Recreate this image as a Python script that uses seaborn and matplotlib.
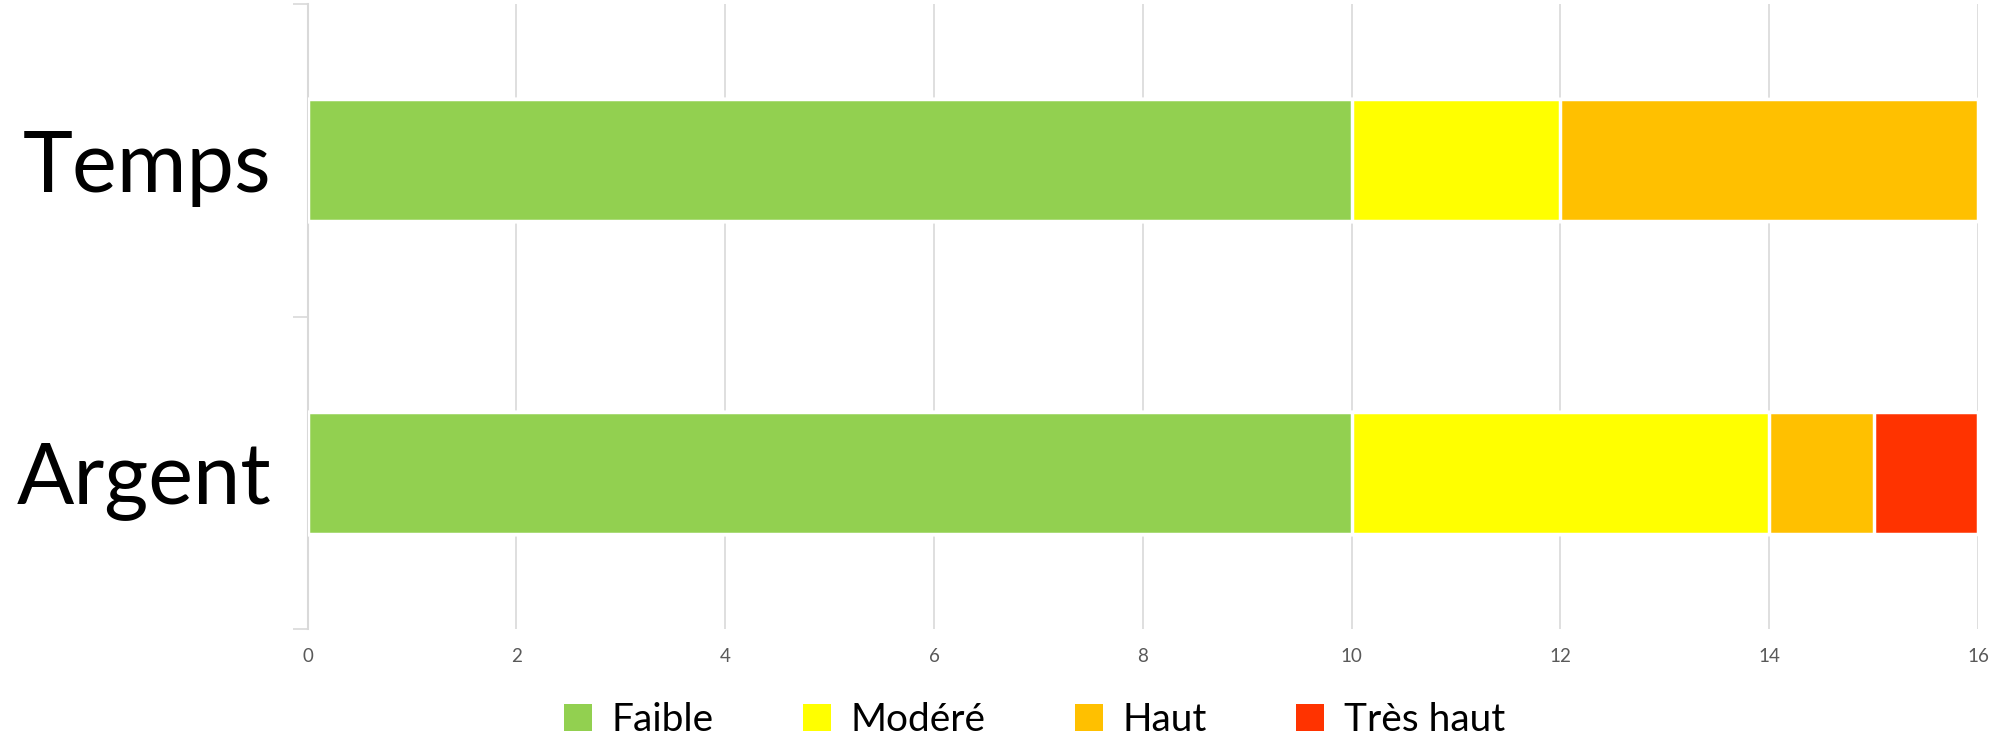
import numpy as np
import pandas as pd
import matplotlib
matplotlib.use("Agg")
import matplotlib.pyplot as plt
import seaborn as sns
from matplotlib.patches import Patch

# ==========================================
# DATA
# ==========================================
categories = ["Temps", "Argent"]
levels = ["Faible", "Modéré", "Haut", "Très haut"]
faible = [10, 10]
modere = [2, 4]
haut = [4, 1]
tres_haut = [0, 1]
colors = ["#92d050", "#ffff00", "#ffc000", "#ff3300"]
x_ticks = [0, 2, 4, 6, 8, 10, 12, 14, 16]

# ==========================================
# STYLE
# ==========================================
sns.set_style("white")
plt.rcParams["font.family"] = ["Lato", "DejaVu Sans"]

df = pd.DataFrame({"cat": categories, "Faible": faible, "Modéré": modere,
                   "Haut": haut, "Très haut": tres_haut})
cum = df[levels].cumsum(axis=1)

fig = plt.figure(figsize=(19.93, 7.47), dpi=100)
ax = fig.add_axes([0.1543, 0.158, 0.8382, 0.8366])

# stacked bars: draw cumulative totals from the back to the front
for lvl, col in reversed(list(zip(levels, colors))):
    sns.barplot(x=cum[lvl], y=df["cat"], orient="h", color=col, width=0.39,
                edgecolor="white", linewidth=2.5, saturation=1, ax=ax, zorder=3)

ax.set_xlim(0, 16)
ax.set_ylim(1.5, -0.5)
ax.set_xticks(x_ticks)
ax.set_xticklabels([str(t) for t in x_ticks], fontsize=13.5, color="#595959")
ax.set_xlabel("")
ax.set_ylabel("")
ax.tick_params(axis="x", length=0, pad=14)
ax.tick_params(axis="y", which="major", length=0, pad=26, labelsize=61,
               labelcolor="black")
ax.set_yticks([-0.5, 0.5, 1.5], minor=True)
ax.tick_params(axis="y", which="minor", left=True, length=11, width=1.2,
               color="#d9d9d9", direction="out")

ax.grid(axis="x", color="#d9d9d9", linewidth=1.2, zorder=0)
ax.set_axisbelow(True)
for side in ["top", "right", "bottom"]:
    ax.spines[side].set_visible(False)
ax.spines["left"].set_color("#d9d9d9")
ax.spines["left"].set_linewidth(1.5)

handles = [Patch(facecolor=c, edgecolor="none", label=l) for l, c in zip(levels, colors)]
fig.legend(handles=handles, loc="center", bbox_to_anchor=(0.519, 0.036), ncol=4,
           frameon=False, fontsize=28, handlelength=0.72, handleheight=0.72,
           handletextpad=0.5, columnspacing=2.3, labelcolor="black")

fig.savefig("out.png", dpi=100)
